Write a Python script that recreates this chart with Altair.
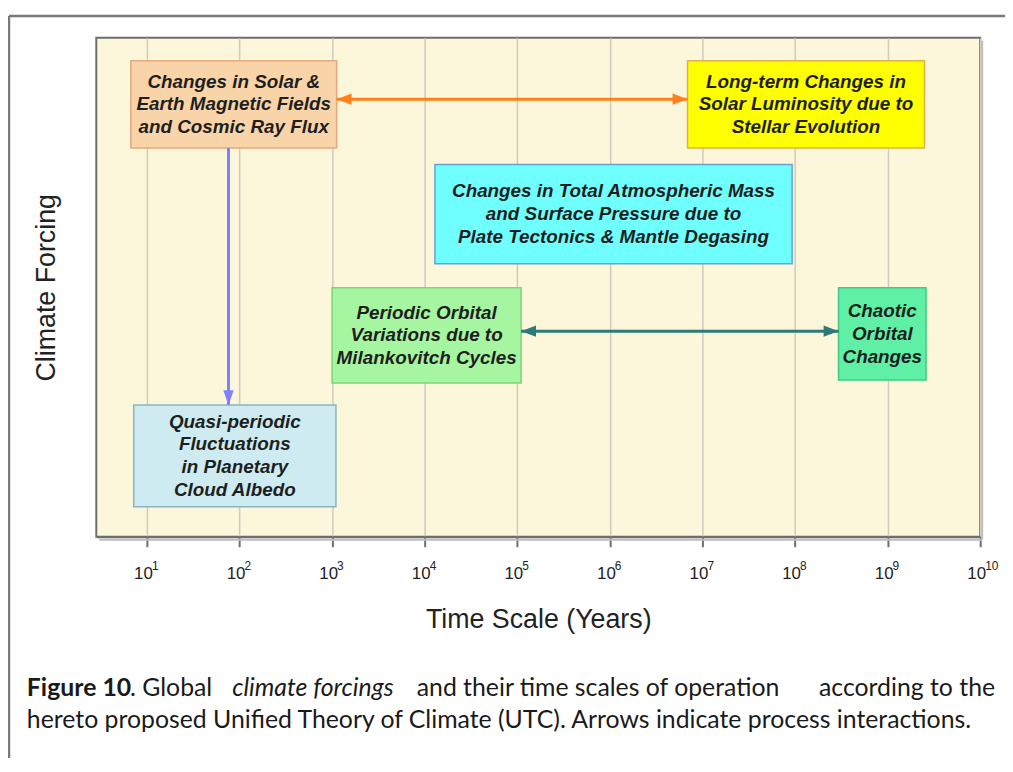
import altair as alt
import pandas as pd

# ---------------- data ----------------
decades = [10, 100, 1e3, 1e4, 1e5, 1e6, 1e7, 1e8, 1e9, 1e10]
tick_base = "10"
tick_exponents = ["1", "2", "3", "4", "5", "6", "7", "8", "9", "10"]

box_text = [
    "Changes in Solar &\nEarth Magnetic Fields\nand Cosmic Ray Flux",
    "Long-term Changes in\nSolar Luminosity due to\nStellar Evolution",
    "Changes in Total Atmospheric Mass\nand Surface Pressure due to\nPlate Tectonics & Mantle Degasing",
    "Periodic Orbital\nVariations due to\nMilankovitch Cycles",
    "Chaotic\nOrbital\nChanges",
    "Quasi-periodic\nFluctuations\nin Planetary\nCloud Albedo",
]
box_x1 = [6.7, 6.9e6, 1.29e4, 1.0e3, 2.95e8, 7.2]
box_x2 = [1.12e3, 2.5e9, 9.3e7, 1.1e5, 2.6e9, 1.1e3]
box_y1 = [77.9, 77.9, 54.7, 30.8, 31.4, 6.0]
box_y2 = [95.4, 95.4, 74.6, 49.9, 49.9, 26.4]
box_fill = ["#F9D4A8", "#FFFF00", "#70FFFF", "#A6F5A0", "#5FF0A6", "#CDEBF0"]
box_stroke = ["#E2AA7E", "#E0B050", "#6A9FD8", "#7BD37B", "#42C987", "#8AB4C4"]

arrow_x1 = [1.12e3, 1.1e5, 76]
arrow_x2 = [6.9e6, 2.95e8, 76]
arrow_y1 = [87.7, 41.2, 77.9]
arrow_y2 = [87.7, 41.2, 26.4]
arrow_color = ["#FF8019", "#2F7A78", "#8080FF"]

W, H = 891, 503
LH = 23  # text line height, px

boxes = pd.DataFrame({
    "text": box_text, "x1": box_x1, "x2": box_x2, "y1": box_y1, "y2": box_y2,
    "fill": box_fill, "stroke": box_stroke,
})
boxes["xc"] = (boxes["x1"] * boxes["x2"]) ** 0.5
nlines = boxes["text"].str.count("\n") + 1
boxes["yc"] = (boxes["y1"] + boxes["y2"]) / 2 + (nlines - 1) / 2 * LH / H * 100

arrows = pd.DataFrame({"x1": arrow_x1, "x2": arrow_x2, "y1": arrow_y1,
                       "y2": arrow_y2, "color": arrow_color})

# arrow heads: tip at the given point
LEFT = "M0,0L2,-0.75L2,0.75Z"
RIGHT = "M0,0L-2,-0.75L-2,0.75Z"
DOWN = "M0,0L-0.7,-2L0.7,-2Z"
heads = pd.DataFrame({
    "x": [arrow_x1[0], arrow_x2[0], arrow_x1[1], arrow_x2[1], arrow_x2[2]],
    "y": [arrow_y1[0], arrow_y2[0], arrow_y1[1], arrow_y2[1], arrow_y2[2]],
    "shape": [LEFT, RIGHT, LEFT, RIGHT, DOWN],
    "color": [arrow_color[0], arrow_color[0], arrow_color[1], arrow_color[1], arrow_color[2]],
})

exps = pd.DataFrame({"x": decades, "e": tick_exponents})

xscale = alt.Scale(type="log", domain=[10 ** 0.453, 1e10], nice=False)
yscale = alt.Scale(domain=[0, 100], nice=False)

base = alt.Chart(boxes)

rects = base.mark_rect(strokeWidth=1.5).encode(
    x=alt.X("x1:Q", scale=xscale,
            axis=alt.Axis(values=decades, labelExpr="'" + tick_base + "'",
                          title="Time Scale (Years)",
                          grid=True, gridColor="#CFCBBE", gridWidth=1.5,
                          domainColor="#6E6E6E", domainWidth=2,
                          tickColor="#6E6E6E", tickWidth=2, tickSize=10,
                          labelFont="Liberation Sans", labelFontSize=17, labelColor="#222",
                          labelPadding=19, labelOffset=-4,
                          titleFont="Liberation Sans", titleFontSize=27,
                          titleFontWeight="normal", titleColor="#222", titlePadding=25,
                          labelFlush=False)),
    x2="x2:Q",
    y=alt.Y("y1:Q", scale=yscale,
            axis=alt.Axis(labels=False, ticks=False, domain=False, grid=False,
                          title="Climate Forcing", titleFont="Liberation Sans",
                          titleFontSize=27, titleFontWeight="normal", titleColor="#222",
                          titlePadding=36)),
    y2="y2:Q",
    fill=alt.Fill("fill:N", scale=None),
    stroke=alt.Stroke("stroke:N", scale=None),
)

texts = base.mark_text(font="Liberation Sans", fontSize=19, fontWeight="bold",
                       fontStyle="italic", color="#1E1E1E", lineHeight=LH,
                       lineBreak="\n", baseline="middle", align="center").encode(
    x=alt.X("xc:Q", scale=xscale), y=alt.Y("yc:Q", scale=yscale), text="text:N")

exp_text = alt.Chart(exps).mark_text(font="Liberation Sans", fontSize=12, color="#222",
                                     align="left", baseline="middle", dx=5).encode(
    x=alt.X("x:Q", scale=xscale), y=alt.value(H + 29), text="e:N")

shafts = alt.Chart(arrows).mark_rule(strokeWidth=3).encode(
    x=alt.X("x1:Q", scale=xscale), x2="x2:Q",
    y=alt.Y("y1:Q", scale=yscale), y2="y2:Q",
    color=alt.Color("color:N", scale=None))

heads_m = alt.Chart(heads).mark_point(filled=True, size=225, opacity=1).encode(
    x=alt.X("x:Q", scale=xscale), y=alt.Y("y:Q", scale=yscale),
    shape=alt.Shape("shape:N", scale=None),
    color=alt.Color("color:N", scale=None))

# frame shadow and outer figure border, caption
deco = pd.DataFrame({"k": [0]})
shadow_r = alt.Chart(deco).mark_rule(color="#BDBDBD", strokeWidth=2).encode(
    x=alt.value(W + 2), y=alt.value(3), y2=alt.value(H + 3))
shadow_b = alt.Chart(deco).mark_rule(color="#BDBDBD", strokeWidth=2).encode(
    x=alt.value(3), x2=alt.value(W + 2), y=alt.value(H + 3))
border_t = alt.Chart(deco).mark_rule(color="#7A7A7A", strokeWidth=2.5).encode(
    x=alt.value(-88), x2=alt.value(920), y=alt.value(-22))
border_l = alt.Chart(deco).mark_rule(color="#7A7A7A", strokeWidth=2.5).encode(
    x=alt.value(-88), y=alt.value(-22), y2=alt.value(740))

cap_font = "Lato"
cap_size = 25
cap_segments = [
    ("Figure 10", "bold", "normal", "left", -70, 656),
    (". Global", "normal", "normal", "left", 34, 656),
    ("climate forcings", "normal", "italic", "left", 137, 656),
    ("and their time scales of operation", "normal", "normal", "left", 323, 656),
    ("according to the", "normal", "normal", "right", 906, 656),
    ("hereto proposed Unified Theory of Climate (UTC). Arrows indicate process interactions.",
     "normal", "normal", "left", -70, 688),
]
caps = []
for txt, fw, fs, al, cx, cy in cap_segments:
    caps.append(alt.Chart(deco).mark_text(
        font=cap_font, fontSize=cap_size, fontWeight=fw, fontStyle=fs, color="#1A1A1A",
        align=al, baseline="middle", text=txt).encode(x=alt.value(cx), y=alt.value(cy)))

chart = alt.layer(shadow_r, shadow_b, border_t, border_l, rects, shafts, heads_m, texts,
                  exp_text, *caps).properties(
    width=W, height=H,
    padding={"left": 89, "top": 27, "right": 25, "bottom": 220},
    autosize=alt.AutoSizeParams(type="none"),
    background="white",
).configure_view(fill="#FCF6DA", stroke="#6E6E6E", strokeWidth=2)

chart.save("out.html", embed_options={"renderer": "svg", "actions": False})
